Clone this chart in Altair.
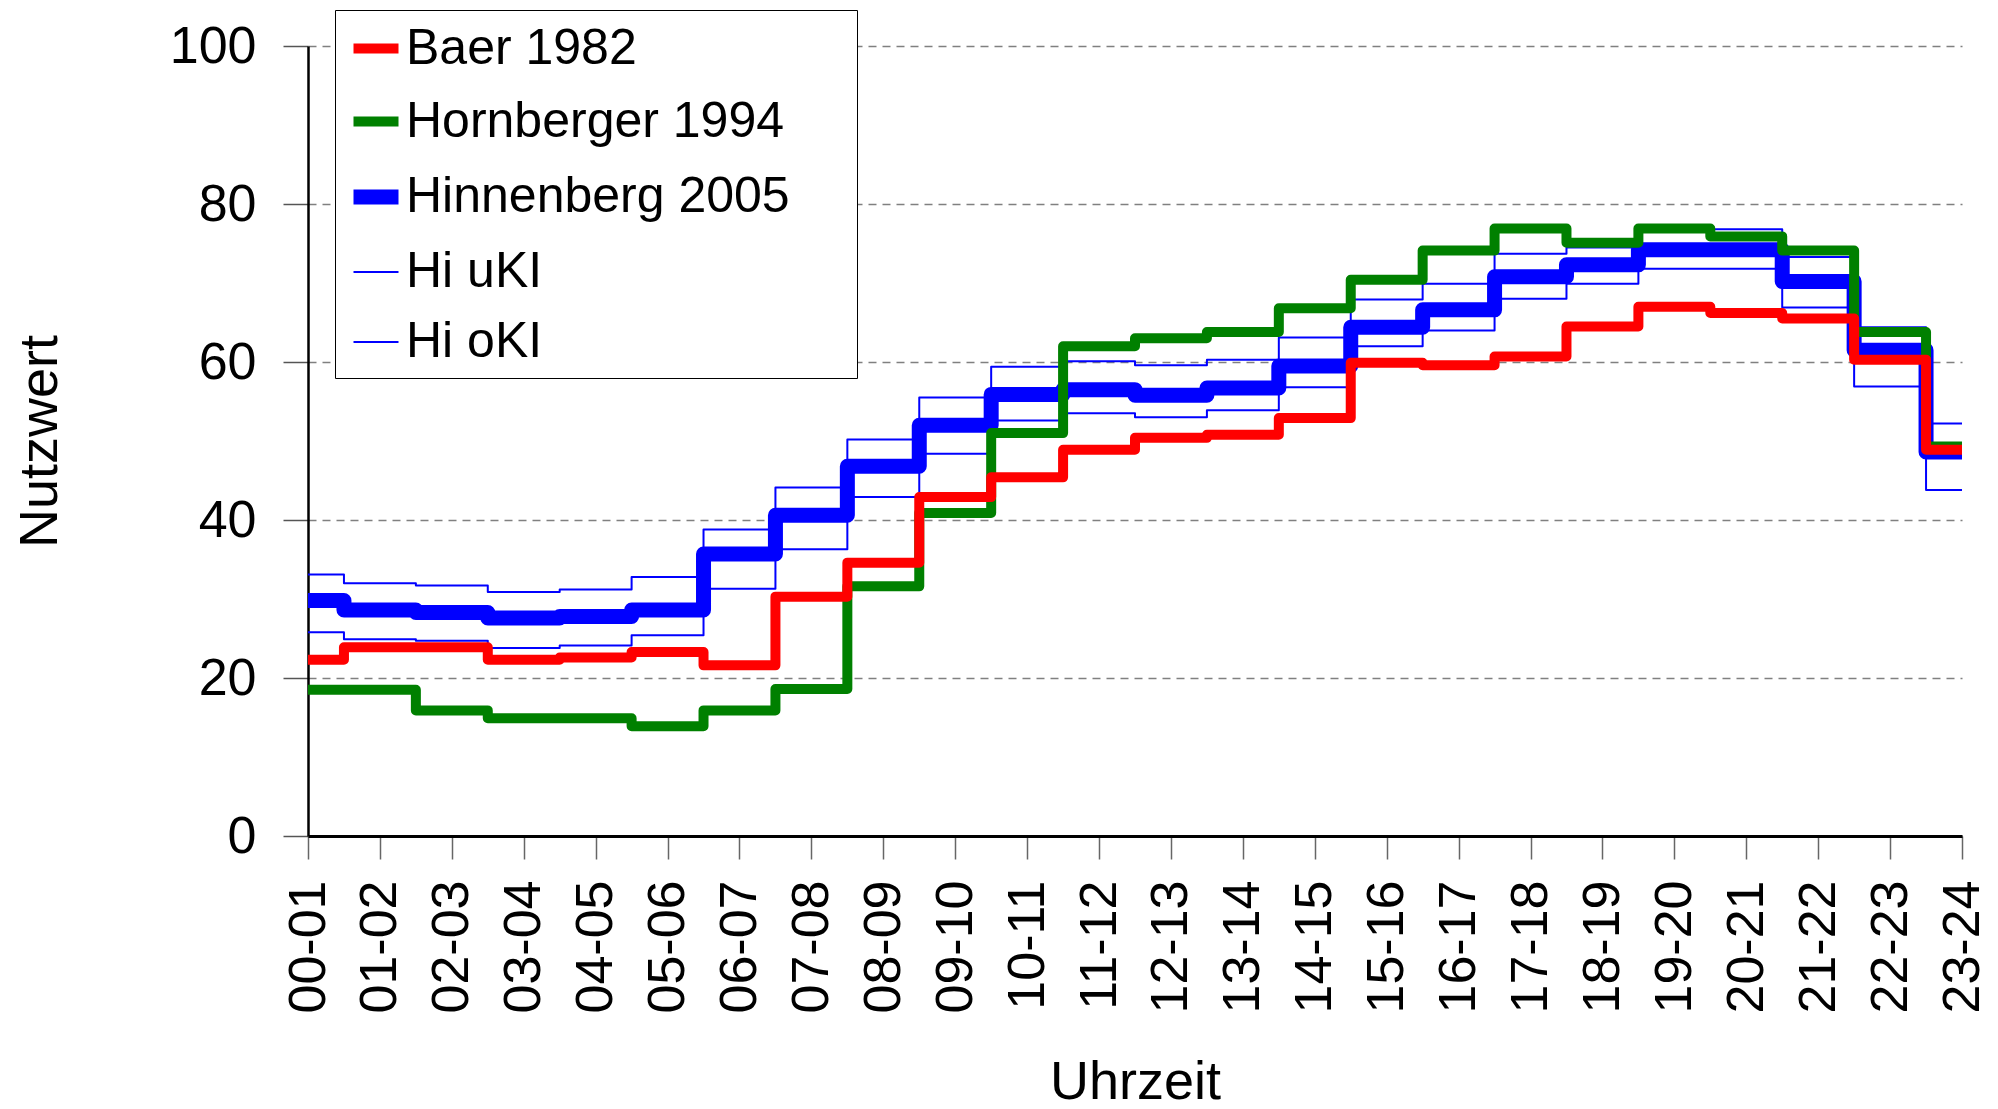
import altair as alt
import pandas as pd

hours = ["00-01", "01-02", "02-03", "03-04", "04-05", "05-06", "06-07", "07-08",
         "08-09", "09-10", "10-11", "11-12", "12-13", "13-14", "14-15", "15-16",
         "16-17", "17-18", "18-19", "19-20", "20-21", "21-22", "22-23", "23-24"]

baer = [22.3, 23.9, 23.9, 22.3, 22.6, 23.3, 21.6, 30.3, 34.6, 42.9, 45.4, 48.9,
        50.4, 50.8, 52.9, 59.9, 59.6, 60.7, 64.5, 67.0, 66.2, 65.5, 60.3, 48.9]
hornberger = [18.5, 18.5, 15.9, 14.9, 14.9, 13.9, 15.9, 18.6, 31.6, 40.9, 51.0, 62.0,
              63.0, 63.8, 66.8, 70.4, 74.1, 76.9, 75.1, 76.9, 75.9, 74.1, 63.8, 49.3]
hinnenberg = [29.8, 28.6, 28.3, 27.6, 27.8, 28.6, 35.7, 40.6, 46.8, 52.0, 55.9, 56.5,
              55.8, 56.7, 59.5, 64.4, 66.6, 70.8, 72.3, 74.2, 74.2, 70.2, 61.5, 48.6]
hi_ukI = [25.8, 24.9, 24.7, 23.8, 24.1, 25.4, 31.3, 36.3, 42.9, 48.4, 52.6, 53.5,
          53.0, 53.9, 56.8, 62.0, 64.0, 68.0, 69.9, 71.8, 71.8, 66.9, 56.9, 43.8]
hi_okI = [33.1, 32.0, 31.7, 30.9, 31.2, 32.8, 38.8, 44.1, 50.2, 55.5, 59.4, 60.1,
          59.6, 60.3, 63.1, 67.9, 69.9, 73.7, 74.5, 76.6, 76.8, 73.3, 64.4, 52.2]

series_names = ["Baer 1982", "Hornberger 1994", "Hinnenberg 2005", "Hi uKI", "Hi oKI"]
series_values = [baer, hornberger, hinnenberg, hi_ukI, hi_okI]
series_colors = ["#ff0000", "#008000", "#0000ff", "#0000ff", "#0000ff"]
series_widths = [10, 10, 15, 2, 2]

rows = []
for name, vals in zip(series_names, series_values):
    for h, v in zip(hours, vals):
        rows.append({"Uhrzeit": h, "Nutzwert": v, "Serie": name})
df = pd.DataFrame(rows)

FONT = "Liberation Sans"
PAD_TAIL = "\u00a0" * 4 + "\u200b"

legend = alt.Legend(
    title=None,
    orient="none",
    legendX=27,
    legendY=-36,
    symbolType="stroke",
    symbolSize=2025,
    labelFontSize=50,
    labelFont=FONT,
    labelColor="#000000",
    labelOffset=0,
    labelLimit=1000,
    rowPadding=20,
    padding=11,
    strokeColor="#000000",
    fillColor="#ffffff",
    cornerRadius=0,
    labelExpr="datum.label + '" + PAD_TAIL + "'",
)

x_enc = alt.X(
    "Uhrzeit:O",
    sort=hours,
    scale=alt.Scale(domain=hours, padding=0),
    axis=alt.Axis(
        title="Uhrzeit",
        labelAngle=-90,
        labelFontSize=52,
        labelFont=FONT,
        labelColor="#000000",
        labelPadding=21,
        tickSize=23,
        tickColor="#666666",
        tickWidth=1.5,
        domainColor="#000000",
        domainWidth=3,
        grid=False,
        titleFontSize=54,
        titleFont=FONT,
        titleFontWeight="normal",
        titleColor="#000000",
        titleY=262,
        titleBaseline="alphabetic",
    ),
)

y_enc = alt.Y(
    "Nutzwert:Q",
    scale=alt.Scale(domain=[0, 100], nice=False, zero=True),
    axis=alt.Axis(
        title="Nutzwert",
        values=[0, 20, 40, 60, 80, 100],
        labelFontSize=52,
        labelFont=FONT,
        labelColor="#000000",
        labelPadding=27,
        tickSize=25,
        tickColor="#555555",
        tickWidth=1.5,
        domainColor="#000000",
        domainWidth=2.5,
        grid=True,
        gridColor="#808080",
        gridDash=[8, 6],
        gridWidth=1.5,
        titleFontSize=54,
        titleFont=FONT,
        titleFontWeight="normal",
        titleColor="#000000",
        titleX=-268,
        titleBaseline="middle",
    ),
)

color_enc = alt.Color(
    "Serie:N",
    scale=alt.Scale(type="ordinal", domain=series_names, range=series_colors),
    legend=legend,
)
width_enc = alt.StrokeWidth(
    "Serie:N",
    scale=alt.Scale(type="ordinal", domain=series_names, range=series_widths),
    legend=legend,
)

layers = []
for name in ["Hi oKI", "Hi uKI", "Hinnenberg 2005", "Hornberger 1994", "Baer 1982"]:
    layers.append(
        alt.Chart(df)
        .transform_filter(alt.datum.Serie == name)
        .mark_line(interpolate="step", strokeJoin="round", strokeCap="butt")
        .encode(x=x_enc, y=y_enc, color=color_enc, strokeWidth=width_enc)
    )

chart = (
    alt.layer(*layers)
    .properties(
        width=1654,
        height=790,
        autosize=alt.AutoSizeParams(type="none"),
        padding={"left": 300, "top": 38, "right": 28, "bottom": 267},
    )
    .configure(font=FONT)
    .configure_view(strokeWidth=0)
)

chart.save("out.html", embed_options={"renderer": "svg", "actions": False})
